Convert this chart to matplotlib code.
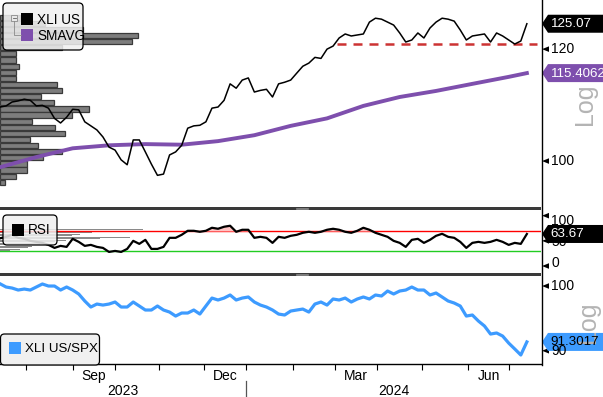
import numpy as np
import pandas as pd
import matplotlib
matplotlib.use('Agg')
from matplotlib import pyplot as plt
from matplotlib.patches import Polygon, FancyBboxPatch, Rectangle
from matplotlib.ticker import NullLocator

# Datos (una muestra cada 3 dias habiles, 13-jul-2023 .. 12-jul-2024)
precio_xli = [109.2, 109.4, 110.1, 110.3, 110.6, 110.4, 109.4, 109.5, 109.0, 107.2,
              106.4, 107.4, 108.8, 108.7, 106.6, 105.9, 105.2, 104.0, 102.3, 101.8,
              100.2, 99.4, 103.5, 103.5, 101.5, 99.5, 97.7, 97.9, 101.0, 101.5,
              102.6, 105.5, 105.9, 106.0, 106.6, 109.0, 109.2, 110.4, 113.4, 112.6,
              114.1, 114.5, 111.9, 112.2, 112.4, 111.0, 113.4, 113.7, 114.1, 115.4,
              116.7, 117.3, 118.4, 118.2, 120.0, 120.6, 122.2, 123.0, 122.6, 122.8,
              123.0, 125.4, 126.2, 126.0, 125.4, 124.8, 123.2, 121.4, 121.8, 123.2,
              122.2, 124.2, 125.4, 126.2, 126.0, 125.6, 123.8, 121.8, 122.6, 122.8,
              123.0, 121.4, 123.2, 122.6, 121.8, 121.0, 121.6, 125.07]

rsi_xli = [55, 58, 62, 56, 54, 50, 48, 46, 42, 36,
           40, 38, 54, 48, 40, 42, 38, 36, 28, 30,
           28, 34, 50, 44, 52, 34, 34, 38, 56, 56,
           62, 70, 70, 68, 70, 76, 74, 78, 80, 68,
           72, 72, 56, 58, 56, 46, 58, 56, 60, 62,
           66, 68, 66, 68, 72, 74, 72, 68, 66, 70,
           76, 72, 66, 62, 58, 50, 46, 38, 52, 54,
           46, 52, 60, 64, 58, 56, 48, 36, 46, 48,
           46, 48, 52, 48, 42, 46, 44, 63.67]

ratio_spx = [100.37, 99.84, 99.67, 99.35, 99.51, 99.35, 99.84, 100.33, 100.0, 100.0,
             99.35, 99.84, 99.35, 98.71, 97.59, 96.64, 97.11, 96.95, 97.11, 97.43,
             96.64, 96.64, 97.43, 96.80, 96.17, 96.17, 96.80, 96.17, 95.85, 95.23,
             95.70, 95.70, 96.17, 95.54, 96.80, 98.06, 97.75, 98.06, 98.55, 97.75,
             98.06, 98.23, 97.43, 96.95, 96.64, 96.17, 95.54, 95.39, 96.01, 96.17,
             96.32, 95.85, 97.11, 97.43, 96.95, 97.91, 97.75, 98.06, 97.43, 97.91,
             98.23, 97.91, 98.55, 98.39, 99.19, 98.71, 99.19, 99.35, 99.84, 99.35,
             99.35, 98.55, 98.87, 98.23, 97.59, 97.27, 96.80, 95.23, 95.39, 94.46,
             93.70, 92.48, 92.64, 92.18, 91.13, 90.26, 89.38, 91.3017]

# media movil (una muestra cada 18 dias habiles + ultimo dia)
media_movil = [99.0, 100.65, 102.1, 102.6, 102.8, 102.7, 103.3, 104.3,
               105.9, 107.2, 109.4, 111.0, 112.1, 113.4, 114.7, 115.4062]

# volumen por precio (de arriba a abajo, 126.4 -> 96.6)
vol_precio = [20, 45, 83, 138, 132, 62, 16, 16, 19, 16, 16, 57, 62, 41,
              54, 89, 72, 32, 55, 65, 30, 38, 62, 43, 27, 27, 16, 5]
vol_precio_alto = 126.4
vol_precio_bajo = 96.6

# distribucion del RSI
rsi_niveles = [72, 69, 66, 63, 60, 57, 54, 51, 48, 45, 42, 39, 36, 33, 30]
rsi_conteo = [143, 110, 92, 80, 72, 130, 100, 66, 55, 42, 40, 32, 28, 20, 10]

nivel_resistencia = 121.0
inicio_resistencia = '2024-03-04'

meses_etiqueta = ['Sep', 'Dec', 'Mar', 'Jun']
anios = ['2023', '2024']

MORADO = '#7e4fad'
AZUL = '#3d9bff'


def main():
    plt.rcParams['font.family'] = ['Liberation Sans', 'DejaVu Sans']

    dias = pd.bdate_range('2023-07-13', '2024-07-12')
    pos = np.arange(0, len(dias), 3)
    pos_mm = np.append(np.arange(0, len(dias), 18), len(dias) - 1)
    x_fin = 268

    W, H = 603, 397
    fig = plt.figure(figsize=(W / 100, H / 100), dpi=100)
    ax1 = fig.add_axes([0, 1 - 206 / H, 541 / W, 206 / H])
    ax2 = fig.add_axes([0, 1 - 271 / H, 541 / W, 61 / H])
    ax3 = fig.add_axes([0, 1 - 364 / H, 541 / W, 87 / H])

    for ax in (ax1, ax2, ax3):
        ax.set_xlim(0, x_fin)
        for s in ax.spines.values():
            s.set_visible(False)

    # panel de precio
    ax1.set_yscale('log')
    ax1.set_ylim(92.94, 130.0)
    paso = np.log10(vol_precio_alto / vol_precio_bajo) / (len(vol_precio) - 1)
    centros = np.geomspace(vol_precio_alto, vol_precio_bajo, len(vol_precio))
    alto = 0.84 * paso
    fondos = centros * 10 ** (-alto / 2)
    altos = centros * (10 ** (alto / 2) - 10 ** (-alto / 2))
    anchos = np.array(vol_precio) / max(vol_precio) * (138 / 541) * x_fin
    ax1.barh(fondos, anchos, height=altos, left=0, align='edge',
             color='#7d7d7d', edgecolor='#3a3a3a', linewidth=0.9, zorder=1)
    ax1.plot(pos_mm, media_movil, color=MORADO, lw=2.8, zorder=3)
    ax1.plot(pos, precio_xli, color='black', lw=1.1, zorder=4)
    i0 = dias.get_indexer([pd.Timestamp(inicio_resistencia)])[0]
    ax1.plot([i0, x_fin - 2], [nivel_resistencia] * 2, color='#cc3333', lw=1.8,
             dashes=(3.6, 2.8), zorder=2)

    # panel RSI
    ax2.set_ylim(-9.9, 111.3)
    anchos_rsi = np.array(rsi_conteo) / max(rsi_conteo) * (143 / 541) * x_fin
    ax2.barh(rsi_niveles, anchos_rsi, height=2.2, left=0, color='#8a8a8a', zorder=1)
    ax2.axhline(70, color='#ff0000', lw=1.0, zorder=2)
    ax2.axhline(30, color='#22cc22', lw=1.0, zorder=2)
    r = np.array(rsi_xli, dtype=float)
    ax2.fill_between(pos, r, 70, where=r > 70, interpolate=True, color='#ffc4c4', zorder=2)
    ax2.plot(pos, r, color='black', lw=1.6, zorder=3)

    # panel XLI/SPX
    ax3.set_yscale('log')
    ax3.set_ylim(88.08, 101.48)
    ax3.plot(pos, ratio_spx, color=AZUL, lw=2.3)
    ax3.spines['bottom'].set_visible(True)
    ax3.spines['bottom'].set_linewidth(1.0)

    # marcas de mes
    inicios_mes = pd.date_range('2023-08-01', '2024-07-01', freq='MS')
    idx_mes = dias.searchsorted(inicios_mes)
    for ax in (ax1, ax2, ax3):
        ax.yaxis.set_major_locator(NullLocator())
        ax.yaxis.set_minor_locator(NullLocator())
        ax.xaxis.set_minor_locator(NullLocator())
    ax1.set_xticks([])
    ax2.set_xticks([])
    ax3.set_xticks(idx_mes)
    ax3.tick_params(axis='x', length=4, width=0.8, labelbottom=False)

    # capa en pixeles
    ov = fig.add_axes([0, 0, 1, 1], zorder=10)
    ov.set_xlim(0, W)
    ov.set_ylim(H, 0)
    ov.axis('off')

    def py(ax, v):
        return H - ax.transData.transform((0, v))[1]

    def px(ax, x):
        return ax.transData.transform((x, 1))[0]

    # separadores y eje derecho
    for y0 in (206.5, 272.5):
        ov.add_patch(Rectangle((0, y0), 541, 3.5, fc='#3a3a3a', ec='none'))
        ov.plot([296, 308], [y0 + 1.2, y0 + 1.2], color='#9a9a9a', lw=0.5)
        ov.plot([296, 308], [y0 + 2.4, y0 + 2.4], color='#9a9a9a', lw=0.5)
    ov.plot([541.5, 541.5], [0, 365], color='black', lw=1.0)

    # etiquetas de los ejes de la derecha (desplazamiento vertical del texto)
    marcas = [(ax1, [100, 120], ['100', '120'], [0, 0]),
              (ax2, [0, 50, 100], ['0', '50', '100'], [-3, 1, 5]),
              (ax3, [90, 100], ['90', '100'], [0, 0])]
    for ax, vals, txts, despl in marcas:
        for v, t, d in zip(vals, txts, despl):
            y = py(ax, v)
            ov.add_patch(Polygon([(542, y), (549, y - 2.8), (549, y + 2.8)],
                                 closed=True, fc='black', ec='none'))
            ov.text(551, y + d, t, fontsize=10, va='center', ha='left')

    ov.text(585, 104, 'Log', fontsize=18, color='#b4b4b4', rotation=90,
            ha='center', va='center')
    ov.text(588, 322, 'Log', fontsize=18, color='#b4b4b4', rotation=90,
            ha='center', va='center')

    def etiqueta(y, texto, fondo, letra):
        pts = [(542, y), (548, y - 9), (612, y - 9), (612, y + 9), (548, y + 9)]
        ov.add_patch(Polygon(pts, closed=True, fc=fondo, ec='none', clip_on=False))
        ov.text(550.5, y + 0.5, texto, color=letra, fontsize=9.6, va='center', ha='left')

    etiqueta(py(ax1, precio_xli[-1]), '%.2f' % precio_xli[-1], 'black', 'white')
    etiqueta(py(ax1, media_movil[-1]), '%.4f' % media_movil[-1], MORADO, 'white')
    etiqueta(py(ax2, rsi_xli[-1]), '%.2f' % rsi_xli[-1], 'black', 'white')
    etiqueta(py(ax3, ratio_spx[-1]), '%.4f' % ratio_spx[-1], AZUL, 'black')

    # leyendas
    gris = (0.94, 0.94, 0.94, 0.85)
    ov.add_patch(FancyBboxPatch((3, 3), 80, 47, boxstyle='round,pad=0,rounding_size=4',
                                fc=gris, ec='black', lw=0.9))
    ov.add_patch(Rectangle((11, 15), 6, 6, fc='#e8e8e8', ec='#8a8a8a', lw=0.6))
    ov.plot([12.5, 15.5], [18, 18], color='#606060', lw=0.6)
    ov.plot([14, 14, 21], [21, 35, 35], color='#8a8a8a', lw=0.6)
    ov.add_patch(Rectangle((21, 13), 12, 12, fc='black'))
    ov.add_patch(Rectangle((21, 29), 12, 12, fc=MORADO))
    ov.text(37, 19.5, 'XLI US', fontsize=9.8, va='center')
    ov.text(37, 35.5, 'SMAVG', fontsize=9.8, va='center')

    ov.add_patch(FancyBboxPatch((3, 215), 54, 30, boxstyle='round,pad=0,rounding_size=4',
                                fc=gris, ec='black', lw=0.9))
    ov.add_patch(Rectangle((12, 224), 12, 12, fc='black'))
    ov.text(28, 230.5, 'RSI', fontsize=9.8, va='center')

    ov.add_patch(FancyBboxPatch((0.5, 334), 99, 31, boxstyle='round,pad=0,rounding_size=4',
                                fc=(0.94, 0.94, 0.94), ec='black', lw=0.9))
    ov.add_patch(Rectangle((9, 342), 12, 12, fc=AZUL))
    ov.text(25, 349, 'XLI US/SPX', fontsize=9.6, va='center')

    # etiquetas de fecha
    nombres = [m.strftime('%b') for m in inicios_mes]
    for k, nombre in enumerate(nombres):
        if nombre in meses_etiqueta and k + 1 < len(idx_mes):
            xc = (px(ax3, idx_mes[k]) + px(ax3, idx_mes[k + 1])) / 2
            ov.text(xc, 376, nombre, fontsize=10, ha='center', va='center')
    i_enero = idx_mes[list(inicios_mes).index(pd.Timestamp('2024-01-01'))]
    x_enero = px(ax3, i_enero)
    ov.text(px(ax3, 0) / 2 + x_enero / 2, 391, anios[0], fontsize=10, ha='center', va='center')
    ov.text((x_enero + px(ax3, x_fin)) / 2, 391, anios[1], fontsize=10, ha='center', va='center')
    ov.plot([x_enero, x_enero], [381, 397], color='#555555', lw=0.9)

    plt.savefig('out.png', dpi=100)


if __name__ == "__main__":
    main()
